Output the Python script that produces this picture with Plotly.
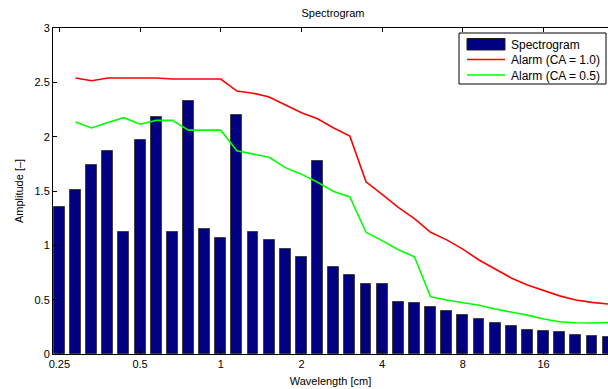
import numpy as np
import plotly.graph_objects as go

# Wavelengths: 5 bands per octave starting at 0.25 cm
wavelength = [0.25 * 2 ** (k / 5) for k in range(35)]

spectrogram = [1.35, 1.51, 1.74, 1.87, 1.125, 1.965, 2.18, 1.12, 2.33, 1.15,
               1.07, 2.20, 1.12, 1.05, 0.97, 0.89, 1.78, 0.80, 0.73, 0.64,
               0.64, 0.475, 0.465, 0.435, 0.395, 0.355, 0.32, 0.285, 0.255, 0.225,
               0.21, 0.20, 0.175, 0.165, 0.155]

alarm_10 = [None, 2.54, 2.515, 2.54, 2.54, 2.54, 2.54, 2.53, 2.53, 2.53,
            2.53, 2.42, 2.40, 2.365, 2.29, 2.22, 2.165, 2.08, 2.005, 1.585,
            1.47, 1.35, 1.245, 1.12, 1.05, 0.965, 0.865, 0.78, 0.70, 0.635,
            0.583, 0.535, 0.497, 0.475, 0.46]

alarm_05 = [None, 2.135, 2.08, 2.13, 2.175, 2.115, 2.15, 2.15, 2.06, 2.06,
            2.06, 1.87, 1.84, 1.81, 1.715, 1.655, 1.58, 1.495, 1.445, 1.12,
            1.043, 0.96, 0.895, 0.527, 0.497, 0.472, 0.448, 0.414, 0.386, 0.358,
            0.322, 0.297, 0.288, 0.285, 0.29]

tick_labels = ["0.25", "0.5", "1", "2", "4", "8", "16"]
tick_values = [0.25, 0.5, 1, 2, 4, 8, 16]

series_names = ["Spectrogram", "Alarm (CA = 1.0)", "Alarm (CA = 0.5)"]
bar_color = "#000080"
line_colors = ["#ff0000", "#00ff00"]

xpos = np.log2(wavelength)
tickpos = np.log2(tick_values)

font = "Liberation Sans, Arial, Helvetica, sans-serif"

# plot area in pixels (for legend placement)
L, R, T, B = 53, 608, 28, 354


def px(x):
    return (x - L) / (R - L)


def py(y):
    return (B - y) / (B - T)


fig = go.Figure()
fig.add_trace(go.Bar(
    x=xpos, y=spectrogram, name=series_names[0], width=0.135,
    marker=dict(color=bar_color, line=dict(color="#404040", width=1)),
))
fig.add_trace(go.Scatter(
    x=xpos, y=alarm_10, mode="lines", name=series_names[1],
    line=dict(color=line_colors[0], width=1.6),
))
fig.add_trace(go.Scatter(
    x=xpos, y=alarm_05, mode="lines", name=series_names[2],
    line=dict(color=line_colors[1], width=1.6),
))

# Custom legend (MATLAB style)
shapes = [
    dict(type="rect", xref="paper", yref="paper", x0=px(459), x1=px(606), y0=py(84), y1=py(33),
         line=dict(color="black", width=1), fillcolor="white", layer="above"),
    dict(type="rect", xref="paper", yref="paper", x0=px(467), x1=px(505), y0=py(50), y1=py(38.5),
         line=dict(color="#202020", width=1), fillcolor=bar_color, layer="above"),
    dict(type="line", xref="paper", yref="paper", x0=px(467), x1=px(505), y0=py(59.5), y1=py(59.5),
         line=dict(color=line_colors[0], width=1.6), layer="above"),
    dict(type="line", xref="paper", yref="paper", x0=px(467), x1=px(505), y0=py(75), y1=py(75),
         line=dict(color=line_colors[1], width=1.6), layer="above"),
]
annotations = []
for name, yc in zip(series_names, [44.5, 60, 75.5]):
    annotations.append(dict(text=name, xref="paper", yref="paper", x=px(509), y=py(yc),
                            xanchor="left", yanchor="middle", showarrow=False,
                            font=dict(size=12, family=font, color="black")))

fig.update_layout(
    width=608, height=389,
    margin=dict(l=L, r=0, t=T, b=389 - B),
    paper_bgcolor="white", plot_bgcolor="white",
    font=dict(family=font, size=11, color="black"),
    showlegend=False,
    shapes=shapes, annotations=annotations,
    title=dict(text="Spectrogram", x=px(333), xref="paper", xanchor="center",
               y=1 - 13 / 389, yref="container", yanchor="middle",
               font=dict(size=11, family=font, color="black")),
    xaxis=dict(
        range=[-2.079, 4.799], tickvals=tickpos, ticktext=tick_labels,
        showgrid=False, zeroline=False, showline=True, linecolor="black", linewidth=1,
        mirror="ticks", ticks="inside", ticklen=4, tickcolor="black",
        title=dict(text="Wavelength [cm]", standoff=8, font=dict(size=11)),
    ),
    yaxis=dict(
        range=[0, 3], tickvals=[0, 0.5, 1, 1.5, 2, 2.5, 3],
        ticktext=["0", "0.5", "1", "1.5", "2", "2.5", "3"],
        showgrid=False, zeroline=False, showline=True, linecolor="black", linewidth=1,
        ticks="inside", ticklen=4, tickcolor="black",
        title=dict(text="Amplitude [–]", standoff=8, font=dict(size=11)),
    ),
    bargap=0,
)

fig.write_html("out.html")
